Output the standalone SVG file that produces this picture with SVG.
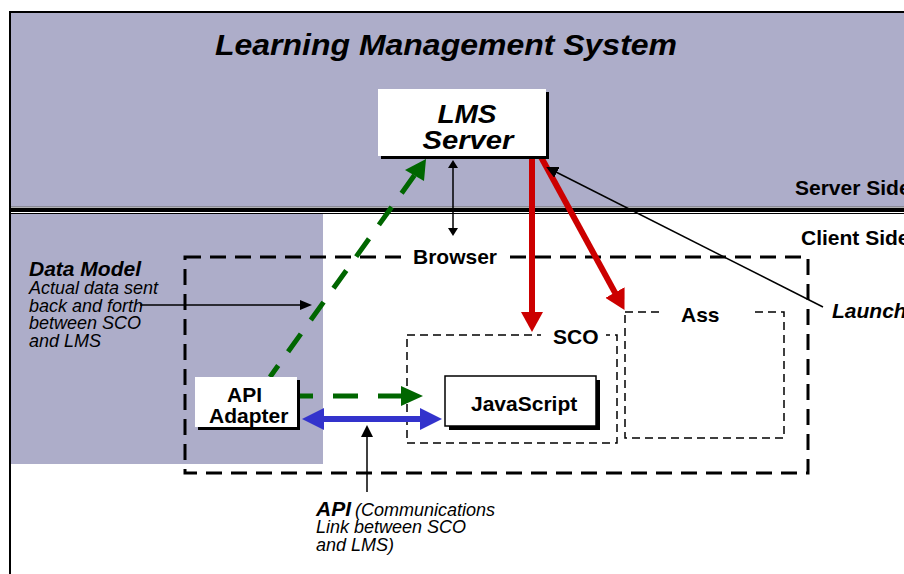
<svg xmlns="http://www.w3.org/2000/svg" width="904" height="574" viewBox="0 0 904 574">
<style>
  .lbl{font-family:"Liberation Sans",Arial,sans-serif;font-weight:bold;font-size:21px;fill:#000}
  .bi{font-family:"Liberation Sans",Arial,sans-serif;font-weight:bold;font-style:italic;fill:#000}
  .it{font-family:"Liberation Sans",Arial,sans-serif;font-style:italic;font-size:18px;fill:#000}
  .thin{fill:none;stroke:#000;stroke-width:1.5;stroke-dasharray:8 5}
  .thick{fill:none;stroke:#000;stroke-width:3;stroke-dasharray:16 9}
  .red{stroke:#CC0000;stroke-width:6;fill:none}
  .green{stroke:#006600;stroke-width:5;fill:none}
  .blue{stroke:#3333CC;stroke-width:6;fill:none}
  .blk{stroke:#000;stroke-width:1.5;fill:none}
</style>
<defs>
  <marker id="mRed" markerUnits="userSpaceOnUse" markerWidth="22" markerHeight="22" refX="1" refY="11" orient="auto"><path d="M0,0 L20,11 L0,22 z" fill="#CC0000"/></marker>
  <marker id="mGreen" markerUnits="userSpaceOnUse" markerWidth="24" markerHeight="22" refX="1" refY="11" orient="auto"><path d="M0,0 L21,11 L0,22 z" fill="#006600"/></marker>
  <marker id="mGreenS" markerUnits="userSpaceOnUse" markerWidth="24" markerHeight="20" refX="20" refY="10" orient="auto-start-reverse"><path d="M0,0 L22,10 L0,20 z" fill="#006600"/></marker>
  <marker id="mBlue" markerUnits="userSpaceOnUse" markerWidth="24" markerHeight="22" refX="1" refY="11" orient="auto-start-reverse"><path d="M0,0 L22,11 L0,22 z" fill="#3333CC"/></marker>
  <marker id="mBlk" markerUnits="userSpaceOnUse" markerWidth="14" markerHeight="10" refX="1" refY="5" orient="auto-start-reverse"><path d="M0,0 L12,5 L0,10 z" fill="#000"/></marker>
  <marker id="mBlkS" markerUnits="userSpaceOnUse" markerWidth="9" markerHeight="10" refX="1" refY="5" orient="auto-start-reverse"><path d="M0,0 L8,5 L0,10 z" fill="#000"/></marker>
  <marker id="mBlkL" markerUnits="userSpaceOnUse" markerWidth="14" markerHeight="12" refX="1" refY="6" orient="auto"><path d="M0,0 L12,6 L0,12 z" fill="#000"/></marker>
</defs>

<g id="background">
  <rect x="0" y="0" width="904" height="574" fill="#fff"/>
  <rect x="11" y="13" width="893" height="194" fill="#ADADC9"/>
  <rect x="11" y="214" width="312" height="250" fill="#ADADC9"/>
  <line x1="11" y1="207" x2="904" y2="207" stroke="#666" stroke-width="1"/>
  <rect x="11" y="208" width="893" height="4" fill="#000"/>
  <line x1="11" y1="213.5" x2="904" y2="213.5" stroke="#000" stroke-width="1"/>
  <path d="M10,574 V12 H904" fill="none" stroke="#000" stroke-width="2"/>
  <text class="bi" x="215" y="55" font-size="29" textLength="462" lengthAdjust="spacingAndGlyphs">Learning Management System</text>
  <text class="lbl" x="795" y="195">Server Side</text>
  <text class="lbl" x="801" y="245">Client Side</text>
</g>

<g id="browser">
  <rect class="thick" x="185" y="257" width="623" height="216"/>
  <rect x="408" y="247" width="93" height="20" fill="#fff"/>
  <text class="lbl" x="413" y="264">Browser</text>
</g>

<g id="sco">
  <rect class="thin" x="407" y="335" width="210" height="108"/>
  <rect x="541" y="328" width="65" height="14" fill="#fff"/>
  <text class="lbl" x="553" y="344">SCO</text>
</g>

<g id="ass">
  <rect class="thin" x="625" y="312" width="159" height="126"/>
  <rect x="663" y="306" width="89" height="12" fill="#fff"/>
  <text class="lbl" x="681" y="322">Ass</text>
</g>

<g id="data-model">
  <text class="bi" x="29" y="276" font-size="21">Data Model</text>
  <text class="it" x="29" y="294">Actual data sent</text>
  <text class="it" x="29" y="312">back and forth</text>
  <text class="it" x="29" y="329">between SCO</text>
  <text class="it" x="29" y="347">and LMS</text>
</g>

<g id="api-label">
  <text x="316" y="516"><tspan class="bi" font-size="21">API</tspan><tspan class="it" dx="4">(Communications</tspan></text>
  <text class="it" x="316" y="533">Link between SCO</text>
  <text class="it" x="316" y="551">and LMS)</text>
</g>

<g id="launch">
  <text class="bi" x="832" y="318" font-size="21">Launch</text>
</g>

<g id="connectors">
  <path class="green" d="M414.4,175.3 L270,377" stroke-dasharray="22 17"/>
  <path d="M426,159 L405,170 L424,181 z" fill="#006600"/>
  <path class="green" d="M288,396 L421,396" stroke-dasharray="25 20" marker-end="url(#mGreenS)"/>
  <path class="blue" d="M323,419 L421,419" marker-start="url(#mBlue)" marker-end="url(#mBlue)"/>
  <path class="red" d="M532,158 L532,313" marker-end="url(#mRed)"/>
  <path class="red" d="M541,157 L615.4,293.4" marker-end="url(#mRed)"/>
  <path class="blk" d="M453,167 L453,229" marker-start="url(#mBlkS)" marker-end="url(#mBlkS)"/>
  <path class="blk" d="M823,307 L556,172" marker-end="url(#mBlkL)"/>
  <path class="blk" d="M140,305 L301,305" marker-end="url(#mBlk)"/>
  <path class="blk" stroke-width="2.5" d="M367,492 L367,436" marker-end="url(#mBlkL)"/>
</g>

<g id="lms-server">
  <rect x="381" y="92" width="168" height="67" fill="#000"/>
  <rect x="378" y="89" width="168" height="67" fill="#fff"/>
  <text class="bi" x="467" y="123" font-size="26" text-anchor="middle" textLength="59" lengthAdjust="spacingAndGlyphs">LMS</text>
  <text class="bi" x="468" y="149" font-size="26" text-anchor="middle" textLength="91" lengthAdjust="spacingAndGlyphs">Server</text>
</g>

<g id="api-adapter">
  <rect x="198" y="380" width="102" height="50" fill="#000"/>
  <rect x="195" y="377" width="102" height="50" fill="#fff"/>
  <text class="lbl" x="227" y="402">API</text>
  <text class="lbl" x="209" y="423">Adapter</text>
</g>

<g id="javascript">
  <rect x="449" y="380" width="151" height="50" fill="#000"/>
  <rect x="445" y="376" width="151" height="50" fill="#fff" stroke="#000" stroke-width="1.5"/>
  <text class="lbl" x="471" y="411">JavaScript</text>
</g>
</svg>
